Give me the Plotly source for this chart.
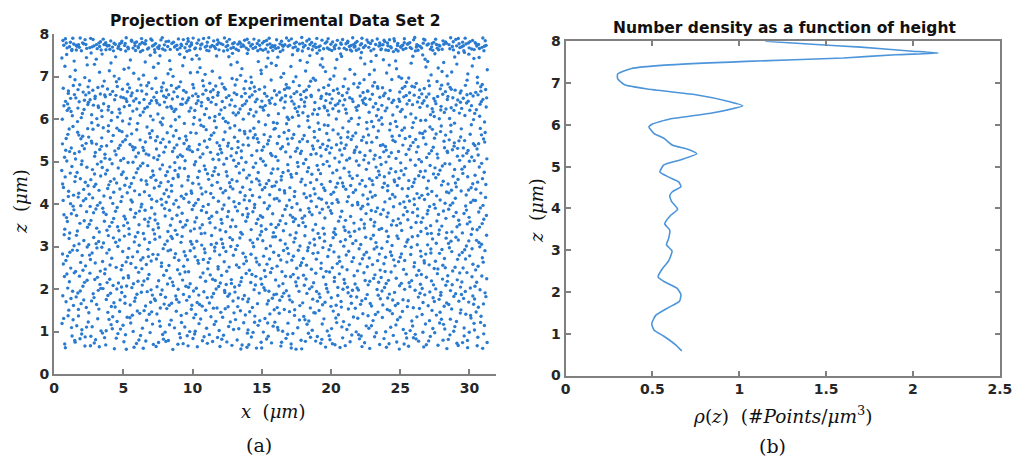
import numpy as np
import plotly.graph_objects as go

# ---------------- data ----------------
# Number density profile rho(z) (panel b), listed from the top of the cell down
rho_z = [8.00, 7.93, 7.86, 7.77, 7.72, 7.68, 7.60, 7.52, 7.43, 7.35, 7.22, 7.10,
         6.96, 6.86, 6.72, 6.56, 6.46, 6.29, 6.14, 6.02, 5.95, 5.79, 5.68, 5.52,
         5.42, 5.31, 5.16, 5.04, 4.87, 4.75, 4.64, 4.52, 4.40, 4.31, 4.17, 3.98,
         3.83, 3.63, 3.48, 3.29, 3.13, 2.98, 2.75, 2.55, 2.36, 2.25, 2.09, 1.94,
         1.78, 1.63, 1.44, 1.24, 1.09, 0.94, 0.74, 0.59]
rho_val = [1.15, 1.42, 1.70, 1.98, 2.145, 1.90, 1.60, 1.04, 0.57, 0.38, 0.30, 0.30,
           0.34, 0.47, 0.75, 0.94, 1.02, 0.85, 0.60, 0.50, 0.48, 0.51, 0.566, 0.613,
           0.70, 0.755, 0.66, 0.566, 0.543, 0.594, 0.65, 0.664, 0.615, 0.60, 0.61, 0.645,
           0.604, 0.571, 0.60, 0.594, 0.581, 0.613, 0.594, 0.556, 0.532, 0.566, 0.641, 0.664,
           0.656, 0.594, 0.519, 0.496, 0.509, 0.566, 0.632, 0.669]

# Projected point cloud (panel a): number of points in each height band
band_edges = [0.58, 0.8, 1.0, 1.2, 1.4, 1.6, 1.8, 2.0, 2.2, 2.4, 2.6, 2.8, 3.0, 3.2,
              3.4, 3.6, 3.8, 4.0, 4.2, 4.4, 4.6, 4.8, 5.0, 5.2, 5.4, 5.6, 5.8, 6.0,
              6.2, 6.4, 6.6, 6.8, 7.0, 7.2, 7.4, 7.6, 7.7, 7.8, 7.92]
band_count = [81, 69, 62, 61, 68, 77, 82, 79, 68, 68, 72, 74, 73, 73,
              73, 72, 77, 77, 74, 81, 75, 68, 74, 91, 81, 69, 60, 69,
              104, 124, 101, 52, 36, 36, 46, 124, 150, 98]
x_min, x_max = 0.55, 31.3

x_ticks_a = [0, 5, 10, 15, 20, 25, 30]
x_ticks_b = [0, 0.5, 1, 1.5, 2, 2.5]
z_ticks = [0, 1, 2, 3, 4, 5, 6, 7, 8]


def radical_inverse(i, base):
    """Van der Corput radical inverse of integer i in the given base."""
    f, r = 1.0, 0.0
    while i > 0:
        f /= base
        r += f * (i % base)
        i //= base
    return r


# Lay the points out with a Halton sequence; heights follow the band counts
cum = np.concatenate([[0.0], np.cumsum(band_count)]) / np.sum(band_count)
n_pts = int(np.sum(band_count))
px, pz = [], []
for i in range(1, n_pts + 1):
    j = 7 * i + 11
    u = radical_inverse(j, 2)
    v = radical_inverse(j, 3)
    px.append(x_min + u * (x_max - x_min))
    pz.append(float(np.interp(v, cum, band_edges)))

# ---------------- figure ----------------
W, H = 1029, 469
def fx(p):
    return p / W
def fy(p):
    return 1 - p / H

AXIS_GREY = "#808080"
TICK_FONT = dict(family="DejaVu Sans", size=14, color="#262626", weight="bold")
SERIF = "DejaVu Serif"

fig = go.Figure()
fig.add_trace(go.Scatter(
    x=px, y=pz, mode="markers", xaxis="x", yaxis="y",
    marker=dict(size=3.4, color="#2a7bd0", line=dict(width=0)),
    showlegend=False, hoverinfo="skip"))
fig.add_trace(go.Scatter(
    x=rho_val, y=rho_z, mode="lines", xaxis="x2", yaxis="y2",
    line=dict(color="#4d95da", width=1.6, shape="spline", smoothing=0.5),
    showlegend=False))

common = dict(showgrid=False, zeroline=False, showline=True, linecolor=AXIS_GREY,
              linewidth=2, ticks="inside", ticklen=5, tickwidth=1.5,
              tickcolor=AXIS_GREY, tickfont=TICK_FONT)

fig.update_layout(
    width=W, height=H, margin=dict(l=0, r=0, t=0, b=0),
    paper_bgcolor="white", plot_bgcolor="white",
    xaxis=dict(domain=[fx(50), fx(499)], range=[0, 31.9], anchor="y",
               tickvals=x_ticks_a, **common),
    yaxis=dict(domain=[fy(379), fy(27)], range=[0, 8], anchor="x",
               tickvals=z_ticks, **common),
    xaxis2=dict(domain=[fx(570), fx(1011.5)], range=[0, 2.5], anchor="y2",
                tickvals=x_ticks_b, ticktext=["0", "0.5", "1", "1.5", "2", "2.5"],
                mirror="ticks", **common),
    yaxis2=dict(domain=[fy(380.5), fy(34.5)], range=[0, 8], anchor="x2",
                tickvals=z_ticks, mirror="ticks", **common),
)

def label(text, x, y, size, family, bold=False, angle=0):
    fig.add_annotation(text=text, x=fx(x), y=fy(y), xref="paper", yref="paper",
                       xanchor="center", yanchor="middle", showarrow=False,
                       textangle=angle,
                       font=dict(family=family, size=size, color="#111111",
                                 weight="bold" if bold else "normal"))

label("Projection of Experimental Data Set 2", 275, 13, 15.5, "DejaVu Sans", bold=True)
label("Number density as a function of height", 793, 21, 15.5, "DejaVu Sans", bold=True)
label("<i>x</i>  (<i>μm</i>)", 273, 418, 18, SERIF)
label("<i>z</i>  (<i>μm</i>)", 15, 200, 18, SERIF, angle=-90)
label("<i>z</i>  (<i>μm</i>)", 541, 210, 18, SERIF, angle=-90)
label("<i>ρ</i>(<i>z</i>)  (#<i>Points</i>/<i>μm</i><sup>3</sup>)", 791, 421, 18.5, SERIF)
label("(a)", 258, 452, 19, SERIF)
label("(b)", 780, 453, 19, SERIF)

fig.write_html("out.html")
